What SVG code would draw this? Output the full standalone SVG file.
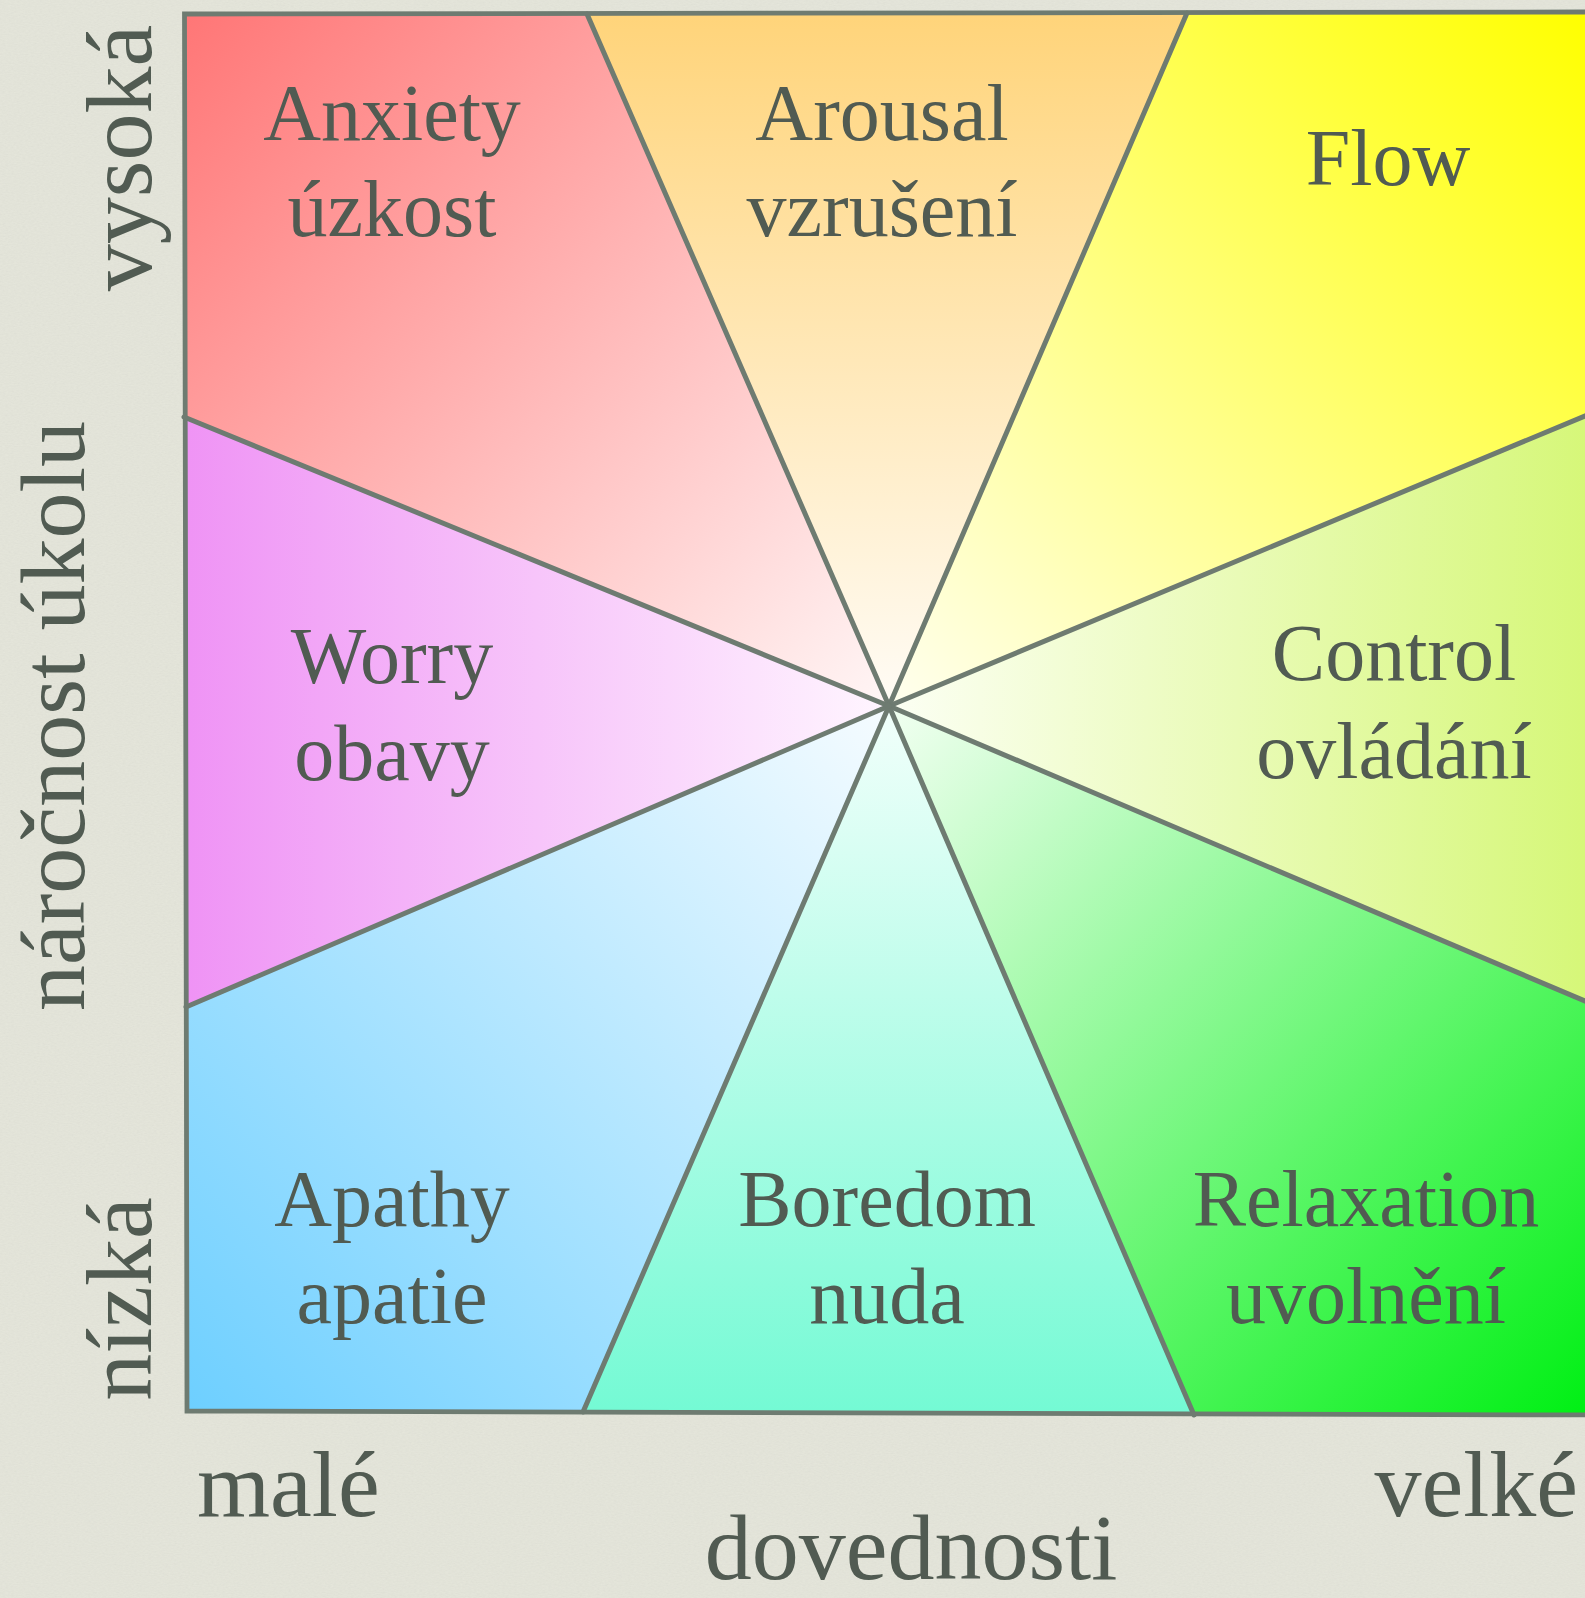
<svg xmlns="http://www.w3.org/2000/svg" width="1585" height="1598" viewBox="0 0 1585 1598">
  <style>
    .wedge { stroke: none; }
    .spoke { stroke: #6e7b71; stroke-width: 5; fill: none; stroke-linecap: round; }
    .frame { stroke: #6e7b71; stroke-width: 4.8; fill: none; stroke-linejoin: miter; }
    .lbl { font-family: "Liberation Serif", "Times New Roman", serif; font-size: 80px; fill: #515b52; text-anchor: middle; }
    .axis { font-family: "Liberation Serif", "Times New Roman", serif; font-size: 94px; fill: #515b52; }
  </style>
  <defs>
    <filter id="paper" x="0" y="0" width="100%" height="100%">
      <feTurbulence type="fractalNoise" baseFrequency="0.35 0.9" numOctaves="2" seed="3" result="n"/>
      <feColorMatrix in="n" type="matrix" values="0 0 0 0 0.55  0 0 0 0 0.55  0 0 0 0 0.5  0 0 0 0.45 0"/>
    </filter>
    <linearGradient id="gAnx" gradientUnits="userSpaceOnUse" x1="184" y1="14" x2="889" y2="706">
      <stop offset="0" stop-color="#ff7676"/><stop offset="1" stop-color="#fff6f6"/>
    </linearGradient>
    <linearGradient id="gAro" gradientUnits="userSpaceOnUse" x1="889" y1="14" x2="889" y2="706">
      <stop offset="0" stop-color="#ffd47a"/><stop offset="1" stop-color="#fffcf6"/>
    </linearGradient>
    <linearGradient id="gFlo" gradientUnits="userSpaceOnUse" x1="1585" y1="12" x2="889" y2="706">
      <stop offset="0" stop-color="#ffff00"/><stop offset="1" stop-color="#fffff0"/>
    </linearGradient>
    <linearGradient id="gCon" gradientUnits="userSpaceOnUse" x1="1585" y1="710" x2="889" y2="706">
      <stop offset="0" stop-color="#d6f779"/><stop offset="1" stop-color="#fcfff4"/>
    </linearGradient>
    <linearGradient id="gRel" gradientUnits="userSpaceOnUse" x1="1585" y1="1415" x2="889" y2="706">
      <stop offset="0" stop-color="#00f014"/><stop offset="1" stop-color="#f2fff2"/>
    </linearGradient>
    <linearGradient id="gBor" gradientUnits="userSpaceOnUse" x1="889" y1="1413" x2="889" y2="706">
      <stop offset="0" stop-color="#74fad4"/><stop offset="1" stop-color="#f2fffb"/>
    </linearGradient>
    <linearGradient id="gApa" gradientUnits="userSpaceOnUse" x1="187" y1="1411" x2="889" y2="706">
      <stop offset="0" stop-color="#6dcfff"/><stop offset="1" stop-color="#f6fcff"/>
    </linearGradient>
    <linearGradient id="gWor" gradientUnits="userSpaceOnUse" x1="185" y1="712" x2="889" y2="706">
      <stop offset="0" stop-color="#ef93f5"/><stop offset="1" stop-color="#fff6ff"/>
    </linearGradient>
  </defs>

  <rect x="0" y="0" width="1585" height="1598" fill="#e6e7dc"/>
  <rect x="0" y="0" width="1585" height="1598" filter="url(#paper)" opacity="0.5"/>

  <g id="anxiety">
    <polygon class="wedge" fill="url(#gAnx)" points="889,706 184,417 184.5,14 587,14"/>
    <text class="lbl" x="392" y="140">Anxiety</text>
    <text class="lbl" x="392" y="236">úzkost</text>
  </g>
  <g id="arousal">
    <polygon class="wedge" fill="url(#gAro)" points="889,706 587,14 1187,13"/>
    <text class="lbl" x="882" y="140">Arousal</text>
    <text class="lbl" x="882" y="236">vzrušení</text>
  </g>
  <g id="flow">
    <polygon class="wedge" fill="url(#gFlo)" points="889,706 1187,13 1592,12 1592,413"/>
    <text class="lbl" x="1388" y="185">Flow</text>
  </g>
  <g id="control">
    <polygon class="wedge" fill="url(#gCon)" points="889,706 1592,413 1592,1004"/>
    <text class="lbl" x="1394" y="680">Control</text>
    <text class="lbl" x="1394" y="778">ovládání</text>
  </g>
  <g id="relaxation">
    <polygon class="wedge" fill="url(#gRel)" points="889,706 1592,1004 1592,1415 1194,1415"/>
    <text class="lbl" x="1366" y="1226">Relaxation</text>
    <text class="lbl" x="1366" y="1323">uvolnění</text>
  </g>
  <g id="boredom">
    <polygon class="wedge" fill="url(#gBor)" points="889,706 1194,1415 583,1412"/>
    <text class="lbl" x="887" y="1226">Boredom</text>
    <text class="lbl" x="887" y="1323">nuda</text>
  </g>
  <g id="apathy">
    <polygon class="wedge" fill="url(#gApa)" points="889,706 583,1412 187,1411 186,1007"/>
    <text class="lbl" x="392" y="1226">Apathy</text>
    <text class="lbl" x="392" y="1323">apatie</text>
  </g>
  <g id="worry">
    <polygon class="wedge" fill="url(#gWor)" points="889,706 186,1007 184,417"/>
    <text class="lbl" x="392" y="683">Worry</text>
    <text class="lbl" x="392" y="780">obavy</text>
  </g>

  <g id="connectors">
    <line class="spoke" x1="889" y1="706" x2="587" y2="14"/>
    <line class="spoke" x1="889" y1="706" x2="1187" y2="13"/>
    <line class="spoke" x1="889" y1="706" x2="1592" y2="413"/>
    <line class="spoke" x1="889" y1="706" x2="1592" y2="1004"/>
    <line class="spoke" x1="889" y1="706" x2="1194" y2="1415"/>
    <line class="spoke" x1="889" y1="706" x2="583" y2="1412"/>
    <line class="spoke" x1="889" y1="706" x2="186" y2="1007"/>
    <line class="spoke" x1="889" y1="706" x2="184" y2="417"/>
    <polygon class="frame" points="184.5,14 1595,12 1595,1415 187,1411"/>
  </g>

  <g id="axes">
    <text class="axis" x="197" y="1516">malé</text>
    <text class="axis" x="1578" y="1516" text-anchor="end">velké</text>
    <text class="axis" x="911" y="1579" text-anchor="middle">dovednosti</text>
    <text class="axis" text-anchor="middle" transform="translate(151,158) rotate(-90)">vysoká</text>
    <text class="axis" text-anchor="middle" style="font-size:92px" transform="translate(84,716) rotate(-90)">náročnost úkolu</text>
    <text class="axis" text-anchor="middle" transform="translate(151,1299) rotate(-90)">nízká</text>
  </g>
</svg>
